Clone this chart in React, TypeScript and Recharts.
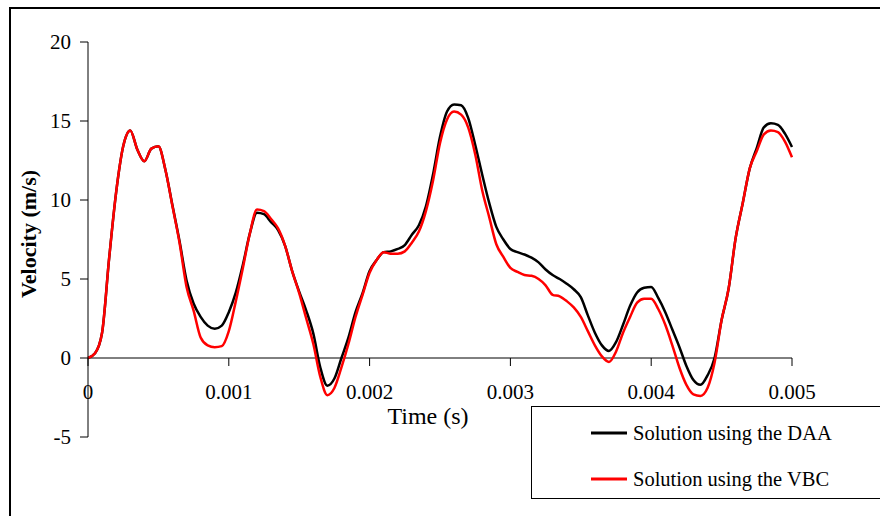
import React from "react";
import { LineChart, Line, XAxis, YAxis, ReferenceLine, Legend } from "recharts";

// time (s)
const TIME = [
  0, 0.00005, 0.0001, 0.00015, 0.0002, 0.00025, 0.0003, 0.00035, 0.0004, 0.00045,
  0.0005, 0.00055, 0.0006, 0.00065, 0.0007, 0.00075, 0.0008, 0.00085, 0.0009, 0.00095,
  0.001, 0.00105, 0.0011, 0.00115, 0.0012, 0.00125, 0.0013, 0.00135, 0.0014, 0.00145,
  0.0015, 0.00155, 0.0016, 0.00165, 0.0017, 0.00175, 0.0018, 0.00185, 0.0019, 0.00195,
  0.002, 0.00205, 0.0021, 0.00215, 0.0022, 0.00225, 0.0023, 0.00235, 0.0024, 0.00245,
  0.0025, 0.00255, 0.0026, 0.00265, 0.0027, 0.00275, 0.0028, 0.00285, 0.0029, 0.00295,
  0.003, 0.00305, 0.0031, 0.00315, 0.0032, 0.00325, 0.0033, 0.00335, 0.0034, 0.00345,
  0.0035, 0.00355, 0.0036, 0.00365, 0.0037, 0.00375, 0.0038, 0.00385, 0.0039, 0.00395,
  0.004, 0.00405, 0.0041, 0.00415, 0.0042, 0.00425, 0.0043, 0.00435, 0.0044, 0.00445,
  0.0045, 0.00455, 0.0046, 0.00465, 0.0047, 0.00475, 0.0048, 0.00485, 0.0049, 0.00495,
  0.005,
];

// velocity (m/s), solution using the DAA
const DAA = [
  0, 0.3, 1.6, 6.3, 10.5, 13.4, 14.4, 13.2, 12.45, 13.25,
  13.4, 11.9, 9.65, 7.4, 4.9, 3.45, 2.6, 2.05, 1.85, 2.05,
  2.9, 4.15, 5.9, 7.9, 9.2, 9.1, 8.6, 8.1, 7.1, 5.5,
  4.2, 3.0, 1.56, -0.6, -1.75, -1.3, 0.0, 1.3, 2.9, 4.1,
  5.5, 6.2, 6.7, 6.75, 6.9, 7.15, 7.8, 8.4, 9.6, 11.6,
  14.0, 15.6, 16.05, 16.0, 15.2, 13.5, 11.6, 9.8, 8.3, 7.5,
  6.9, 6.7, 6.55, 6.35, 6.05, 5.6, 5.25, 5.0, 4.7, 4.35,
  3.85, 2.7, 1.6, 0.8, 0.45, 1.0, 2.1, 3.3, 4.15, 4.45,
  4.5, 3.8, 2.9, 1.8, 0.7, -0.5, -1.4, -1.7, -1.1, 0.0,
  2.4, 4.4, 7.6, 9.8, 12.0, 13.3, 14.6, 14.85, 14.75, 14.2,
  13.35,
];

// velocity (m/s), solution using the VBC
const VBC = [
  0, 0.3, 1.6, 6.3, 10.5, 13.4, 14.4, 13.2, 12.45, 13.25,
  13.4, 11.9, 9.6, 7.3, 4.5, 3.0, 1.3, 0.8, 0.68, 0.75,
  1.7, 3.6, 5.7, 7.9, 9.4, 9.3, 8.8, 8.2, 7.1, 5.5,
  4.1, 2.5, 0.9, -1.2, -2.35, -1.9, -0.6, 0.9, 2.6, 4.0,
  5.4, 6.2, 6.7, 6.6, 6.6, 6.75, 7.3, 8.0, 9.3, 11.2,
  13.6, 15.1, 15.6, 15.4, 14.6, 12.9, 10.6, 8.9, 7.2, 6.4,
  5.7, 5.45, 5.25, 5.2, 5.0, 4.6, 4.0, 3.9, 3.6, 3.2,
  2.6, 1.7, 0.8, 0.1, -0.25, 0.4, 1.6, 2.6, 3.5, 3.75,
  3.75, 3.1, 2.1, 0.8, -0.6, -1.7, -2.3, -2.4, -1.9, -0.3,
  2.4, 4.4, 7.6, 9.8, 12.0, 13.1, 14.15, 14.4, 14.3, 13.7,
  12.7,
];

const X_TICKS = [0, 0.001, 0.002, 0.003, 0.004, 0.005];
const Y_TICKS = [-5, 0, 5, 10, 15, 20];

const data = TIME.map((t, i) => ({ t, daa: DAA[i], vbc: VBC[i] }));

const FONT = '"Liberation Serif", "Times New Roman", serif';
const W = 880;
const H = 516;
const PLOT_TOP = 42;
const PLOT_BOTTOM = 437;
const Y_MIN = -5;
const Y_MAX = 20;
const ZERO_Y = PLOT_TOP + ((Y_MAX - 0) / (Y_MAX - Y_MIN)) * (PLOT_BOTTOM - PLOT_TOP);

const XTick = (props: any) => {
  const { x, payload } = props;
  return (
    <g>
      <line x1={x} x2={x} y1={ZERO_Y} y2={ZERO_Y + 8} stroke="#000" strokeWidth={1} />
      <text x={x} y={ZERO_Y + 41} textAnchor="middle" fontSize={21} fontFamily={FONT} fill="#000">
        {payload.value}
      </text>
    </g>
  );
};

const LegendBox = (props: any) => {
  const items = props.payload || [];
  return (
    <div
      style={{
        width: 360,
        height: 93,
        boxSizing: "border-box",
        border: "1px solid #000",
        background: "#fff",
        position: "relative",
      }}
    >
      {items.map((it: any, i: number) => (
        <div
          key={it.value}
          style={{
            position: "absolute",
            left: 59,
            top: 12 + i * 46,
            height: 28,
            display: "flex",
            alignItems: "center",
            fontFamily: FONT,
            fontSize: 20.5,
            color: "#000",
            whiteSpace: "nowrap",
          }}
        >
          <svg width={36} height={6} style={{ marginRight: 6 }}>
            <line x1={0} x2={36} y1={3} y2={3} stroke={it.color} strokeWidth={3} />
          </svg>
          {it.value}
        </div>
      ))}
    </div>
  );
};

export default function App() {
  return (
    <div
      style={{
        position: "absolute",
        left: 0,
        top: 0,
        width: W,
        height: H,
        overflow: "hidden",
        background: "#fff",
      }}
    >
      <div
        style={{
          position: "absolute",
          left: 9,
          top: 7,
          width: 1000,
          height: 700,
          borderTop: "2px solid #000",
          borderLeft: "2px solid #000",
        }}
      />
      <div style={{ position: "absolute", left: 0, top: 0 }}>
        <LineChart
          width={W}
          height={H}
          data={data}
          margin={{ top: PLOT_TOP, right: W - 792, bottom: H - PLOT_BOTTOM - 20, left: 88 - 60 }}
        >
          <XAxis
            dataKey="t"
            type="number"
            domain={[0, 0.005]}
            ticks={X_TICKS}
            axisLine={false}
            tickLine={false}
            tick={<XTick />}
            height={20}
            interval={0}
          />
          <YAxis
            type="number"
            domain={[Y_MIN, Y_MAX]}
            ticks={Y_TICKS}
            width={60}
            axisLine={{ stroke: "#000", strokeWidth: 1 }}
            tickLine={{ stroke: "#000", strokeWidth: 1 }}
            tickSize={8}
            tickMargin={9}
            tick={{ fill: "#000", fontSize: 21, fontFamily: FONT }}
            interval={0}
          />
          <ReferenceLine y={0} stroke="#000" strokeWidth={1} />
          <Line
            type="monotone"
            dataKey="daa"
            name="Solution using the DAA"
            stroke="#000000"
            strokeWidth={2.5}
            dot={false}
            isAnimationActive={false}
          />
          <Line
            type="monotone"
            dataKey="vbc"
            name="Solution using the VBC"
            stroke="#FF0000"
            strokeWidth={2.5}
            dot={false}
            isAnimationActive={false}
          />
          <Legend
            layout="horizontal"
            verticalAlign="middle"
            align="center"
            content={<LegendBox />}
            wrapperStyle={{ position: "absolute", left: 531, top: 406, width: 360, height: 93 }}
          />
        </LineChart>
      </div>
      <svg
        width={W}
        height={H}
        style={{ position: "absolute", left: 0, top: 0, pointerEvents: "none" }}
      >
        <text x={428} y={424} textAnchor="middle" fontSize={24} fontFamily={FONT} fill="#000">
          Time (s)
        </text>
        <text
          x={0}
          y={0}
          transform="translate(36 234) rotate(-90)"
          textAnchor="middle"
          fontSize={22}
          fontWeight="bold"
          fontFamily={FONT}
          fill="#000"
        >
          Velocity (m/s)
        </text>
      </svg>
    </div>
  );
}
